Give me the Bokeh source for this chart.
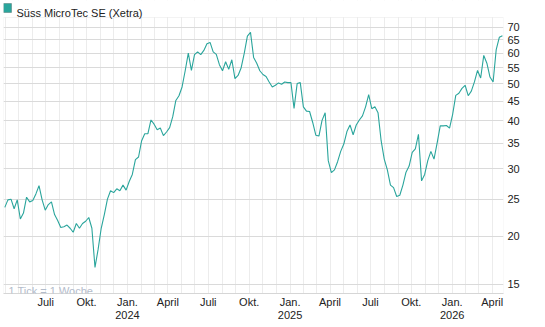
import pandas as pd
from bokeh.plotting import figure
from bokeh.models import FixedTicker, Label, LinearAxis, ColumnDataSource, BoxAnnotation
from bokeh.embed import file_html
from bokeh.resources import INLINE

# ---- data (weekly closing prices, EUR) ----
start_date = "2023-03-31"
prices = [
    23.8, 24.9, 25.0, 23.6, 24.9, 22.2, 23.0, 25.3, 24.6, 24.8,
    25.8, 27.1, 24.9, 23.4, 24.2, 24.6, 22.8, 22.0, 21.1, 21.2,
    21.4, 21.0, 20.5, 21.6, 21.0, 21.6, 21.9, 22.4, 21.0, 16.6,
    18.5, 21.0, 22.8, 25.0, 26.3, 26.0, 26.6, 26.3, 27.2, 26.4,
    27.8, 29.0, 31.7, 32.2, 35.5, 37.0, 37.0, 40.2, 39.2, 37.9,
    38.3, 36.6, 37.4, 38.4, 41.0, 45.2, 46.5, 49.0, 54.0, 60.0,
    54.1, 59.5, 60.5, 59.5, 61.0, 63.5, 64.0, 60.5, 59.6, 56.0,
    54.0, 57.0, 54.5, 57.7, 51.5, 52.5, 55.0, 60.0, 66.5, 68.0,
    58.5, 56.5, 54.0, 52.8, 52.2, 50.5, 49.0, 49.5, 50.2, 49.8,
    50.5, 50.3, 50.3, 43.1, 50.0, 50.3, 43.5, 42.4, 42.3, 39.6,
    36.7, 36.5, 40.1, 42.0, 31.5, 29.3, 29.8, 31.3, 33.3, 34.8,
    37.5, 39.0, 36.8, 39.0, 40.2, 41.2, 43.5, 46.8, 43.0, 43.5,
    42.0, 35.5, 31.8, 29.8, 27.2, 26.8, 25.4, 25.6, 27.2, 29.4,
    30.5, 33.1, 33.8, 36.9, 27.9, 29.0, 31.5, 33.3, 31.8, 35.0,
    38.8, 38.8, 38.9, 38.3, 41.6, 46.6, 47.2, 48.6, 49.5, 46.5,
    47.8, 50.5, 54.1, 51.7, 59.2, 56.5, 52.0, 50.5, 61.3, 66.0,
    66.6,
]
dates = pd.date_range(start_date, periods=len(prices), freq="7D")

quarter_dates = ["2023-07-01", "2023-10-01", "2024-01-01", "2024-04-01",
                 "2024-07-01", "2024-10-01", "2025-01-01", "2025-04-01",
                 "2025-07-01", "2025-10-01", "2026-01-01", "2026-04-01"]
quarter_labels = ["Juli", "Okt.", "Jan.", "April",
                  "Juli", "Okt.", "Jan.", "April",
                  "Juli", "Okt.", "Jan.", "April"]
year_dates = ["2024-01-01", "2025-01-01", "2026-01-01"]
year_labels = ["2024", "2025", "2026"]
y_ticks = [15, 20, 25, 30, 35, 40, 45, 50, 55, 60, 65, 70]
y_labels = [str(v) for v in y_ticks]

title_text = "Süss MicroTec SE (Xetra)"
note_text = "1 Tick = 1 Woche"


def ms(d):
    return float(pd.Timestamp(d).value // 10**6)


month_ms = [ms(d) for d in pd.date_range("2023-04-01", "2026-04-01", freq="MS")]
quarter_ms = [ms(d) for d in quarter_dates]
year_ms = [ms(d) for d in year_dates]

FONT = "Liberation Sans"
TEAL = "#2aa59c"
FRAME_H = 293          # frame spans canvas y 0..293 (title area lies inside it)
Y_BOTTOM, Y_TOP_VISIBLE, Y_TOP = 14.2, 74.3, 82.3

src = ColumnDataSource(dict(date=dates, price=prices))

p = figure(width=545, height=327, x_axis_type="datetime", y_axis_type="log",
           x_range=(ms("2023-03-28 02:00"), ms("2026-04-26 10:00")),
           y_range=(Y_BOTTOM, Y_TOP), y_axis_location="right",
           output_backend="svg", toolbar_location=None,
           min_border_left=3, min_border_right=42,
           min_border_top=0, min_border_bottom=34)
p.background_fill_color = "white"
p.border_fill_color = "white"
p.outline_line_color = None

p.line("date", "price", source=src, line_color=TEAL, line_width=1.1)

# x axis (months)
xa = p.xaxis[0]
xa.ticker = FixedTicker(ticks=quarter_ms, minor_ticks=month_ms)
xa.major_label_overrides = dict(zip(quarter_ms, quarter_labels))
xa.axis_line_color = "#d6d6d6"
xa.major_tick_line_color = None
xa.minor_tick_line_color = None
xa.major_tick_out = 0
xa.major_tick_in = 0
xa.minor_tick_out = 0
xa.minor_tick_in = 0
xa.major_label_standoff = 2
xa.major_label_text_font = FONT
xa.major_label_text_font_size = "11px"
xa.major_label_text_color = "#222222"

# x axis (years)
ya2 = LinearAxis(ticker=FixedTicker(ticks=year_ms),
                 major_label_overrides=dict(zip(year_ms, year_labels)),
                 axis_line_color=None, major_tick_line_color=None,
                 minor_tick_line_color=None, major_tick_out=0, major_tick_in=0,
                 minor_tick_out=0, minor_tick_in=0, major_label_standoff=0,
                 major_label_text_font=FONT, major_label_text_font_size="11px",
                 major_label_text_color="#222222")
p.add_layout(ya2, "below")

# y axis
ya = p.yaxis[0]
ya.ticker = FixedTicker(ticks=y_ticks)
ya.major_label_overrides = dict(zip(y_ticks, y_labels))
ya.axis_line_color = None
ya.major_tick_line_color = None
ya.minor_tick_line_color = None
ya.major_tick_out = 0
ya.major_tick_in = 0
ya.minor_tick_out = 0
ya.minor_tick_in = 0
ya.major_label_standoff = 4
ya.major_label_text_font = FONT
ya.major_label_text_font_size = "11px"
ya.major_label_text_color = "#222222"

p.xgrid.ticker = FixedTicker(ticks=month_ms)
p.xgrid.grid_line_color = "#ececec"
p.ygrid.ticker = FixedTicker(ticks=y_ticks)
p.ygrid.grid_line_color = "#dadada"

# blank title strip above the visible plot box, and the box outline
p.add_layout(BoxAnnotation(bottom=Y_TOP_VISIBLE, fill_color="white", fill_alpha=1.0,
                           line_color=None))
p.add_layout(BoxAnnotation(top=Y_TOP_VISIBLE, fill_alpha=0, line_color="#d6d6d6",
                           line_width=1))

# title marker (square) and text
p.add_layout(BoxAnnotation(left=0, right=8, top=FRAME_H - 3, bottom=FRAME_H - 12,
                           left_units="screen", right_units="screen",
                           top_units="screen", bottom_units="screen",
                           fill_color=TEAL, fill_alpha=1.0,
                           line_color="#24403d", line_width=1))
p.add_layout(Label(x=13, y=FRAME_H - 12, x_units="screen", y_units="screen", text=title_text,
                   text_font=FONT, text_font_size="11px", text_color="#222222",
                   text_baseline="alphabetic"))

p.add_layout(Label(x=5, y=3, x_units="screen", y_units="screen", text=note_text,
                   text_font=FONT, text_font_size="11px", text_color="#b3bccb",
                   text_baseline="alphabetic"))

open("out.html", "w").write(file_html(p, INLINE))
